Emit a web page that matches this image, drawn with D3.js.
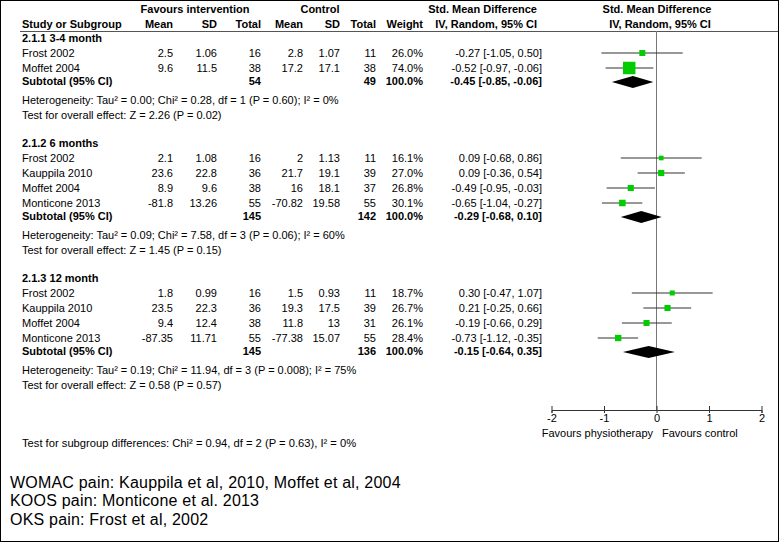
<!DOCTYPE html>
<html>
<head>
<meta charset="utf-8">
<script src="https://cdn.jsdelivr.net/npm/d3@7"></script>
<style>
body { margin: 0; background: #fff; }
text { font-family: "Liberation Sans", Arial, sans-serif; font-size: 11px; fill: #000; }
</style>
</head>
<body>
<script>
var subgroups = ['2.1.1 3-4 month', '2.1.2 6 months', '2.1.3 12 month'];
var studyGroup = [0, 0, 1, 1, 1, 1, 2, 2, 2, 2];
var studyNames = ['Frost 2002', 'Moffet 2004', 'Frost 2002', 'Kauppila 2010', 'Moffet 2004', 'Monticone 2013',
  'Frost 2002', 'Kauppila 2010', 'Moffet 2004', 'Monticone 2013'];
var intMean = [2.5, 9.6, 2.1, 23.6, 8.9, -81.8, 1.8, 23.5, 9.4, -87.35];
var intSD = [1.06, 11.5, 1.08, 22.8, 9.6, 13.26, 0.99, 22.3, 12.4, 11.71];
var intN = [16, 38, 16, 36, 38, 55, 16, 36, 38, 55];
var ctlMean = [2.8, 17.2, 2, 21.7, 16, -70.82, 1.5, 19.3, 11.8, -77.38];
var ctlSD = [1.07, 17.1, 1.13, 19.1, 18.1, 19.58, 0.93, 17.5, 13, 15.07];
var ctlN = [11, 38, 11, 39, 37, 55, 11, 39, 31, 55];
var weights = [26.0, 74.0, 16.1, 27.0, 26.8, 30.1, 18.7, 26.7, 26.1, 28.4];
var smd = [-0.27, -0.52, 0.09, 0.09, -0.49, -0.65, 0.30, 0.21, -0.19, -0.73];
var ciLow = [-1.05, -0.97, -0.68, -0.36, -0.95, -1.04, -0.47, -0.25, -0.66, -1.12];
var ciHigh = [0.50, -0.06, 0.86, 0.54, -0.03, -0.27, 1.07, 0.66, 0.29, -0.35];

var subIntN = [54, 145, 145];
var subCtlN = [49, 142, 136];
var subSmd = [-0.45, -0.29, -0.15];
var subLow = [-0.85, -0.68, -0.64];
var subHigh = [-0.06, 0.10, 0.35];
var hetText = [
  'Heterogeneity: Tau\u00b2 = 0.00; Chi\u00b2 = 0.28, df = 1 (P = 0.60); I\u00b2 = 0%',
  'Heterogeneity: Tau\u00b2 = 0.09; Chi\u00b2 = 7.58, df = 3 (P = 0.06); I\u00b2 = 60%',
  'Heterogeneity: Tau\u00b2 = 0.19; Chi\u00b2 = 11.94, df = 3 (P = 0.008); I\u00b2 = 75%'
];
var effectText = [
  'Test for overall effect: Z = 2.26 (P = 0.02)',
  'Test for overall effect: Z = 1.45 (P = 0.15)',
  'Test for overall effect: Z = 0.58 (P = 0.57)'
];
var axisTicks = [-2, -1, 0, 1, 2];
var subgroupDiff = 'Test for subgroup differences: Chi\u00b2 = 0.94, df = 2 (P = 0.63), I\u00b2 = 0%';
var notes = ['WOMAC pain: Kauppila et al, 2010, Moffet et al, 2004', 'KOOS pain: Monticone et al. 2013', 'OKS pain: Frost et al, 2002'];

// row layout
var headY = [], studyY = [], subY = [], hetY = [], effY = [];
var yy = 38;
subgroups.forEach(function (g, gi) {
  headY.push(yy);
  for (var i = 0; i < studyNames.length; i++) {
    if (studyGroup[i] == gi) {
      yy += 15;
      studyY[i] = yy;
    }
  }
  yy += 13.5; subY.push(yy);
  yy += 18.5; hetY.push(yy);
  yy += 15; effY.push(yy);
  yy += 28;
});

var svg = d3.select('body').append('svg').attr('width', 779).attr('height', 542);
svg.append('rect').attr('x', 0.5).attr('y', 0.5).attr('width', 778).attr('height', 541)
  .attr('fill', '#fff').attr('stroke', '#000');

var x = d3.scaleLinear().domain([-2, 2]).range([551.5, 761.5]);
var side = d3.scaleLinear().domain([0, 100]).range([2.5, 16]);

var cols = [173, 217, 261, 303, 340, 376, 423, 542];
function txt(s, px, py, anchor, bold, size) {
  var t = svg.append('text').attr('x', px).attr('y', py).attr('dy', '0.35em')
    .attr('text-anchor', anchor || 'start').text(s);
  if (bold) t.style('font-weight', 'bold');
  if (size) t.style('font-size', size + 'px');
  return t;
}
function fx(v) { return v.toFixed(2); }

// header
txt('Favours intervention', 195, 9, 'middle', true);
txt('Control', 320, 9, 'middle', true);
txt('Std. Mean Difference', 537, 9, 'end', true);
txt('Std. Mean Difference', 657, 9, 'middle', true);
txt('Study or Subgroup', 22, 24, 'start', true);
['Mean', 'SD', 'Total', 'Mean', 'SD', 'Total', 'Weight'].forEach(function (h, i) {
  txt(h, cols[i], 24, 'end', true);
});
txt('IV, Random, 95% CI', 537, 24, 'end', true);
txt('IV, Random, 95% CI', 660, 24, 'middle', true);
svg.append('line').attr('x1', 20).attr('x2', 778).attr('y1', 31.5).attr('y2', 31.5).attr('stroke', '#555');

// zero line
svg.append('line').attr('x1', x(0)).attr('x2', x(0)).attr('y1', 31).attr('y2', 410).attr('stroke', '#777');

// study rows
studyNames.forEach(function (n, i) {
  var y = studyY[i];
  txt(n, 22, y);
  var vals = [intMean[i], intSD[i], intN[i], ctlMean[i], ctlSD[i], ctlN[i], weights[i].toFixed(1) + '%',
    fx(smd[i]) + ' [' + fx(ciLow[i]) + ', ' + fx(ciHigh[i]) + ']'];
  vals.forEach(function (v, c) { txt(v, cols[c], y, 'end'); });
});

svg.append('g').selectAll('line').data(smd).enter().append('line')
  .attr('x1', function (d, i) { return x(ciLow[i]); })
  .attr('x2', function (d, i) { return x(ciHigh[i]); })
  .attr('y1', function (d, i) { return studyY[i]; })
  .attr('y2', function (d, i) { return studyY[i]; })
  .attr('stroke', '#333').attr('stroke-width', 1.2);
svg.append('g').selectAll('rect').data(smd).enter().append('rect')
  .attr('x', function (d, i) { return x(d) - side(weights[i]) / 2; })
  .attr('y', function (d, i) { return studyY[i] - side(weights[i]) / 2; })
  .attr('width', function (d, i) { return side(weights[i]); })
  .attr('height', function (d, i) { return side(weights[i]); })
  .attr('fill', '#00cc00');

// subgroups
subgroups.forEach(function (g, gi) {
  txt(g, 22, headY[gi], 'start', true);
  txt('Subtotal (95% CI)', 22, subY[gi], 'start', true);
  txt(subIntN[gi], cols[2], subY[gi], 'end', true);
  txt(subCtlN[gi], cols[5], subY[gi], 'end', true);
  txt('100.0%', cols[6], subY[gi], 'end', true);
  txt(fx(subSmd[gi]) + ' [' + fx(subLow[gi]) + ', ' + fx(subHigh[gi]) + ']', cols[7], subY[gi], 'end', true);
  txt(hetText[gi], 22, hetY[gi]);
  txt(effectText[gi], 22, effY[gi]);
});
svg.append('g').selectAll('path').data(subSmd).enter().append('path')
  .attr('d', function (d, i) {
    var y = subY[i] + 0.5;
    return 'M' + x(subLow[i]) + ',' + y + 'L' + x(d) + ',' + (y - 6) + 'L' + x(subHigh[i]) + ',' + y +
      'L' + x(d) + ',' + (y + 6) + 'Z';
  })
  .attr('fill', '#000');

// axis
var xAxis = d3.axisBottom(x).tickValues(axisTicks).tickSizeOuter(0).tickSize(3).tickPadding(1)
  .tickFormat(function (d) { return d; });
var ax = svg.append('g').attr('transform', 'translate(0,410)').call(xAxis);
ax.select('.domain').attr('stroke', '#333');
ax.selectAll('.tick line').attr('y1', -4).attr('stroke', '#333');
ax.selectAll('.tick text').style('font-size', '11px').attr('fill', '#000')
  .style('font-family', '"Liberation Sans", Arial, sans-serif');

txt('Favours physiotherapy', 653, 433, 'end');
txt('Favours control', 662, 433, 'start');

txt(subgroupDiff, 22, 443, 'start', false, 11.2);
notes.forEach(function (n, i) {
  txt(n, 10, 482 + i * 18.5, 'start', false, 16).style('letter-spacing', '0.2px');
});
</script>
</body>
</html>
